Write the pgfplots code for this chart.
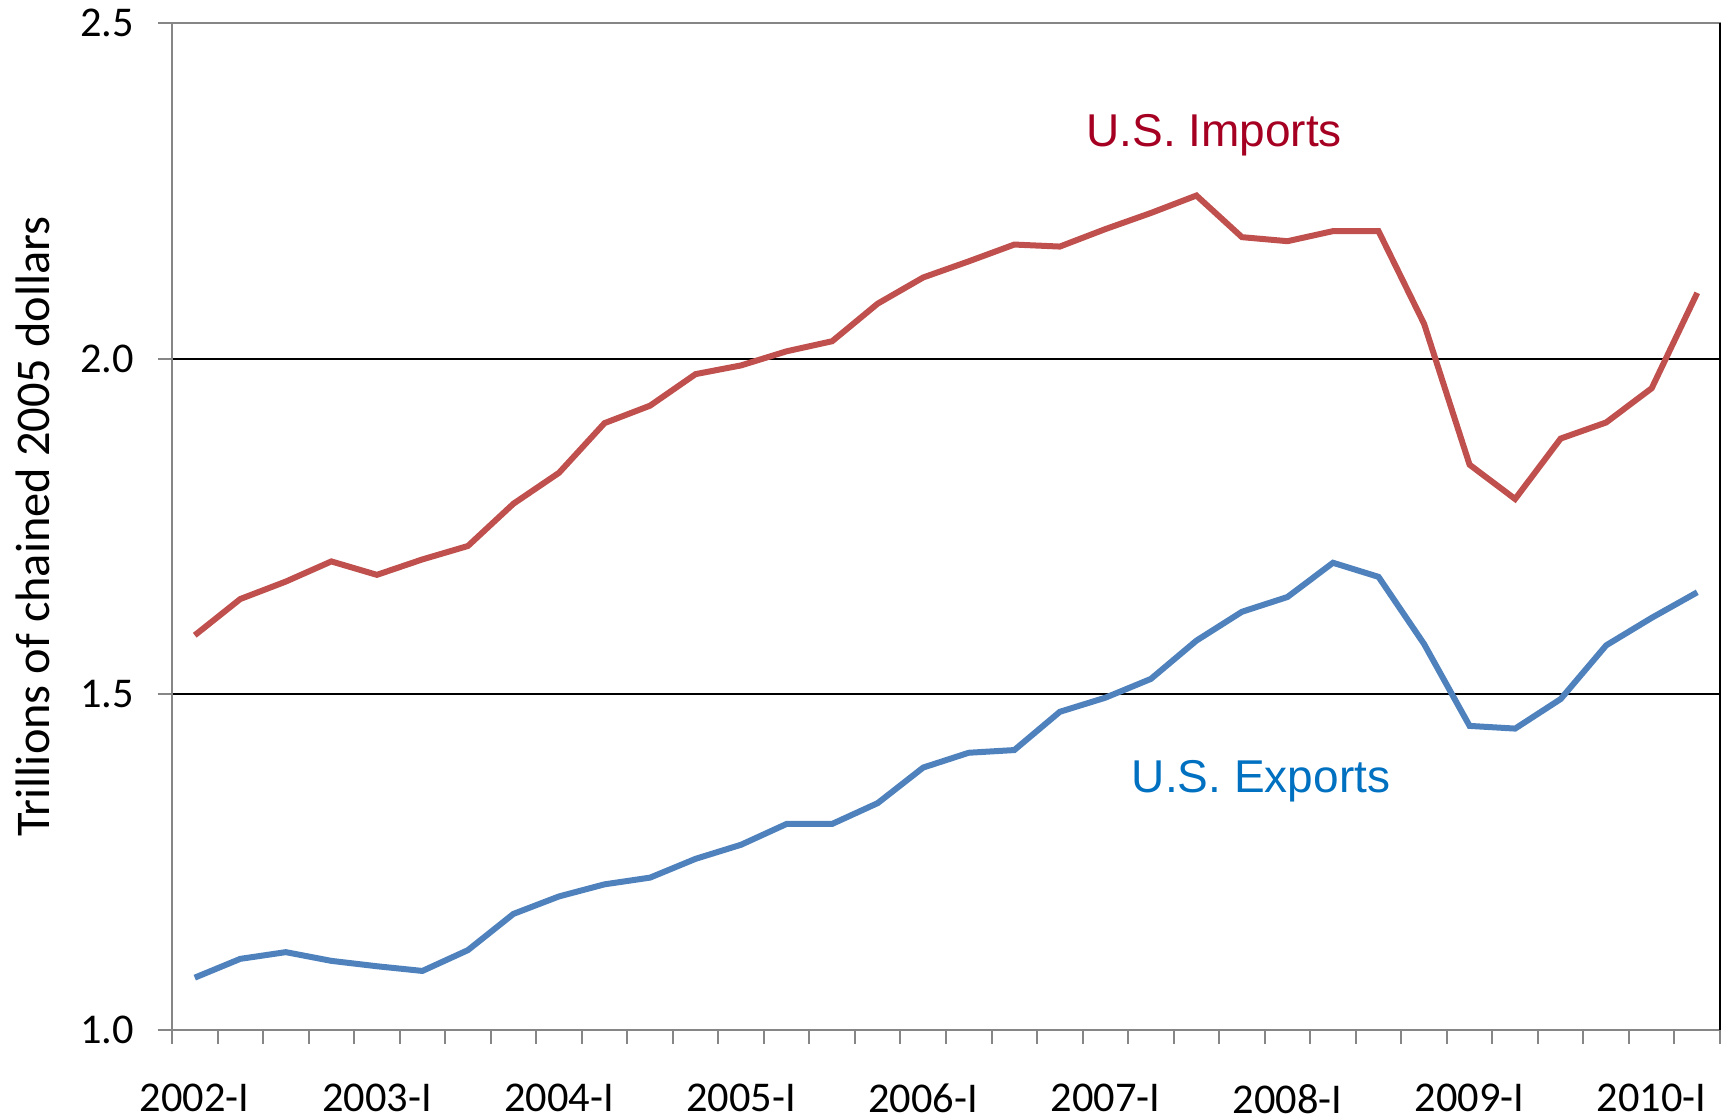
\documentclass[border=0pt]{standalone}
\usepackage{pgfplots}
\pgfplotsset{compat=1.18}
\usepackage{fontspec}
\setmainfont{Carlito}
\newfontfamily\arialfont{Liberation Sans}
\definecolor{impline}{HTML}{C0504D}
\definecolor{expline}{HTML}{4F81BD}
\definecolor{implab}{HTML}{A50021}
\definecolor{explab}{HTML}{0070C0}
\definecolor{axgray}{HTML}{868686}
\begin{document}
\begin{tikzpicture}
\useasboundingbox (-43pt,-22pt) rectangle (387.5pt,257.5pt);
\begin{axis}[
  at={(0,0)}, anchor=south west,
  scale only axis, width=387pt, height=251.75pt,
  xmin=-0.5, xmax=33.5, ymin=1.0, ymax=2.5,
  axis line style={axgray, line width=0.5pt},
  xtick={-0.5,0.5,...,33.5}, xticklabels={},
  extra x ticks={0,4,8,12,16,20,24,28,32},
  extra x tick labels={2002-I,2003-I,2004-I,2005-I,2006-I,2007-I,2008-I,2009-I,2010-I},
  extra x tick style={major tick length=0pt, tick label style={yshift=-10pt}, grid=none},
  ytick={1.0,1.5,2.0,2.5},
  yticklabel style={xshift=-2.5pt, /pgf/number format/.cd, fixed, fixed zerofill, precision=1},
  /pgf/number format/assume math mode=true,
  tick label style={font=\fontsize{10.6}{13}\selectfont},
  tick align=outside, major tick length=3.5pt,
  tick style={axgray, line width=0.5pt},
  xtick pos=bottom, ytick pos=left,
  ymajorgrids, grid style={black, line width=0.5pt},
  ylabel={Trillions of chained 2005 dollars},
  ylabel style={font=\fontsize{12.1}{14}\selectfont, at={(axis description cs:-0.0898,0.5)}, anchor=center},
  clip=false,
]
\addplot[impline, line width=1.5pt] coordinates {
(0,1.588) (1,1.642) (2,1.668) (3,1.698) (4,1.678) (5,1.701) (6,1.721) (7,1.784)
(8,1.830) (9,1.904) (10,1.930) (11,1.977) (12,1.990) (13,2.011) (14,2.026) (15,2.082)
(16,2.121) (17,2.145) (18,2.170) (19,2.167) (20,2.193) (21,2.217) (22,2.243) (23,2.181)
(24,2.175) (25,2.190) (26,2.190) (27,2.052) (28,1.842) (29,1.791) (30,1.881) (31,1.905)
(32,1.956) (33,2.098)};
\addplot[expline, line width=1.5pt] coordinates {
(0,1.078) (1,1.106) (2,1.116) (3,1.103) (4,1.095) (5,1.088) (6,1.119) (7,1.173)
(8,1.199) (9,1.217) (10,1.227) (11,1.255) (12,1.276) (13,1.307) (14,1.307) (15,1.338)
(16,1.391) (17,1.413) (18,1.417) (19,1.474) (20,1.495) (21,1.523) (22,1.580) (23,1.623)
(24,1.645) (25,1.696) (26,1.675) (27,1.575) (28,1.453) (29,1.449) (30,1.493) (31,1.573)
(32,1.614) (33,1.652)};
\draw[black, line width=0.5pt] (rel axis cs:1,0) -- (rel axis cs:1,1);
\node[implab, font=\arialfont\fontsize{11.5}{13}\selectfont] at (axis cs:22.39,2.333) {U.S. Imports};
\node[explab, font=\arialfont\fontsize{11.5}{13}\selectfont] at (axis cs:23.42,1.370) {U.S. Exports};
\end{axis}
\end{tikzpicture}
\end{document}
